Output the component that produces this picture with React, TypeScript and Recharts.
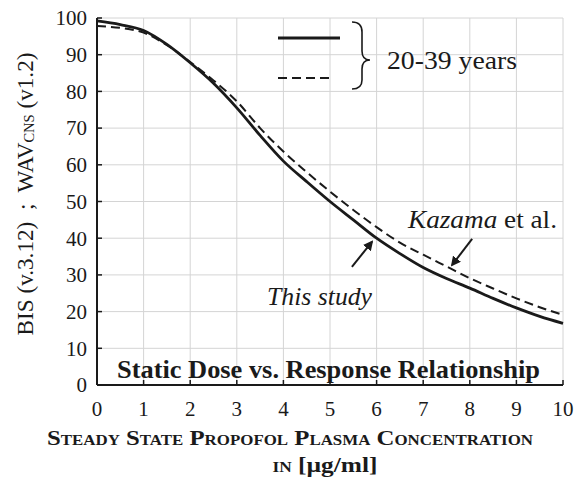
import { CartesianGrid, Customized, Line, LineChart, ReferenceLine, XAxis, YAxis } from "recharts";

// propofol concentration (µg/ml)
const conc = [0, 0.5, 1, 1.5, 2, 2.5, 3, 3.5, 4, 4.5, 5, 5.5, 6, 6.5, 7, 7.5, 8, 8.5, 9, 9.5, 10];
// BIS / WAV response, solid = this study, dashed = Kazama et al.
const thisStudy = [99.2, 98.2, 96.6, 92.8, 87.8, 82.2, 75.5, 68, 61, 55.4, 50, 45, 40, 35.8, 32, 29, 26.4, 23.6, 21, 18.7, 16.8];
const kazama = [97.8, 97.3, 96, 92.6, 88, 83, 77.3, 70, 63.6, 58, 52.7, 47.7, 43, 38.8, 35.5, 32.3, 29.1, 26.3, 23.6, 21.2, 19.1];

const xTicks = [0, 1, 2, 3, 4, 5, 6, 7, 8, 9, 10];
const yTicks = [0, 10, 20, 30, 40, 50, 60, 70, 80, 90, 100];

const rows = conc.map((c, i) => ({ c, study: thisStudy[i], kazama: kazama[i] }));

const serif = "'Liberation Serif', 'DejaVu Serif', serif";
const ink = "#1a1a1a";
const font = (size: number, extra: any = {}) => ({ fontFamily: serif, fontSize: size, fill: ink, ...extra });

const XTick = (p: any) => (
  <text x={p.x} y={p.y} dy="0.71em" textAnchor="middle" style={font(21)}>
    {p.payload.value}
  </text>
);
const YTick = (p: any) => (
  <text x={p.x} y={p.y} dy="0.35em" textAnchor="end" style={font(21)}>
    {p.payload.value}
  </text>
);

const arrow = (props: any) => (
  <line x1={props.x1} y1={props.y1} x2={props.x2} y2={props.y2} stroke={ink} strokeWidth={2} markerEnd="url(#arrowHead)" />
);

function Annotations() {
  return (
    <g>
      <defs>
        <marker id="arrowHead" viewBox="0 0 10 10" refX="8" refY="5" markerWidth="5" markerHeight="5" orient="auto">
          <path d="M0,0 L10,5 L0,10 z" fill={ink} />
        </marker>
      </defs>
      {/* legend */}
      <line x1={278} y1={38} x2={340} y2={38} stroke={ink} strokeWidth={3} />
      <line x1={278} y1={78} x2={333} y2={78} stroke={ink} strokeWidth={2} strokeDasharray="9 5" />
      <path d="M352,22 Q362,22 362,32 L362,51 Q362,60 370,60 Q362,60 362,69 L362,80 Q362,89 352,89" fill="none" stroke={ink} strokeWidth={1.6} />
      <text x={387} y={69} style={font(26)} textLength={130} lengthAdjust="spacingAndGlyphs">20-39 years</text>
      {/* curve labels */}
      <text x={408} y={228} style={font(26)} textLength={149} lengthAdjust="spacingAndGlyphs">
        <tspan fontStyle="italic">Kazama</tspan> et al.
      </text>
      <text x={267} y={305} style={font(26, { fontStyle: "italic" })} textLength={105} lengthAdjust="spacingAndGlyphs">This study</text>
      <text x={117} y={378} style={font(25, { fontWeight: "bold" })} textLength={423} lengthAdjust="spacingAndGlyphs">
        Static Dose vs. Response Relationship
      </text>
      {/* axis titles */}
      <text
        x={25}
        y={194}
        textAnchor="middle"
        dominantBaseline="central"
        transform="rotate(-90 25 194)"
        style={font(24, { whiteSpace: "pre" })}
        textLength={283}
        lengthAdjust="spacingAndGlyphs"
      >
        BIS (v.3.12)  ;  WAV<tspan fontSize={15} dy={4}>CNS</tspan>
        <tspan dy={-4}> (v1.2)</tspan>
      </text>
      <text x={290} y={445} textAnchor="middle" style={font(22, { fontVariant: "small-caps", fontWeight: "bold" })} textLength={486} lengthAdjust="spacingAndGlyphs">
        Steady State Propofol Plasma Concentration
      </text>
      <text x={325} y={472} textAnchor="middle" style={font(22, { fontWeight: "bold" })} textLength={105} lengthAdjust="spacingAndGlyphs">
        <tspan style={{ fontVariant: "small-caps" }}>in</tspan> [µg/ml]
      </text>
    </g>
  );
}

export default function App() {
  return (
    <div style={{ position: "absolute", left: 0, top: 0, width: 576, height: 479, background: "#fff" }}>
      <LineChart width={576} height={479} data={rows} margin={{ top: 18, right: 13, bottom: 64, left: 0 }}>
        <CartesianGrid stroke="#d4d4d4" strokeWidth={1} />
        <XAxis
          dataKey="c"
          type="number"
          domain={[0, 10]}
          ticks={xTicks}
          tick={<XTick />}
          height={30}
          tickSize={-5}
          tickMargin={21}
          axisLine={{ stroke: ink, strokeWidth: 2 }}
          tickLine={{ stroke: ink, strokeWidth: 1.5 }}
        />
        <YAxis
          type="number"
          domain={[0, 100]}
          ticks={yTicks}
          tick={<YTick />}
          width={97}
          tickSize={-5}
          tickMargin={15}
          axisLine={{ stroke: ink, strokeWidth: 2 }}
          tickLine={{ stroke: ink, strokeWidth: 1.5 }}
        />
        <Line dataKey="kazama" type="monotone" stroke={ink} strokeWidth={2} strokeDasharray="9 5" dot={false} isAnimationActive={false} />
        <Line dataKey="study" type="monotone" stroke={ink} strokeWidth={2.8} dot={false} isAnimationActive={false} />
        <ReferenceLine segment={[{ x: 5.47, y: 32.2 }, { x: 5.9, y: 39 }]} shape={arrow} />
        <ReferenceLine segment={[{ x: 8.05, y: 39.8 }, { x: 7.62, y: 32.7 }]} shape={arrow} />
        <Customized component={<Annotations />} />
      </LineChart>
    </div>
  );
}
